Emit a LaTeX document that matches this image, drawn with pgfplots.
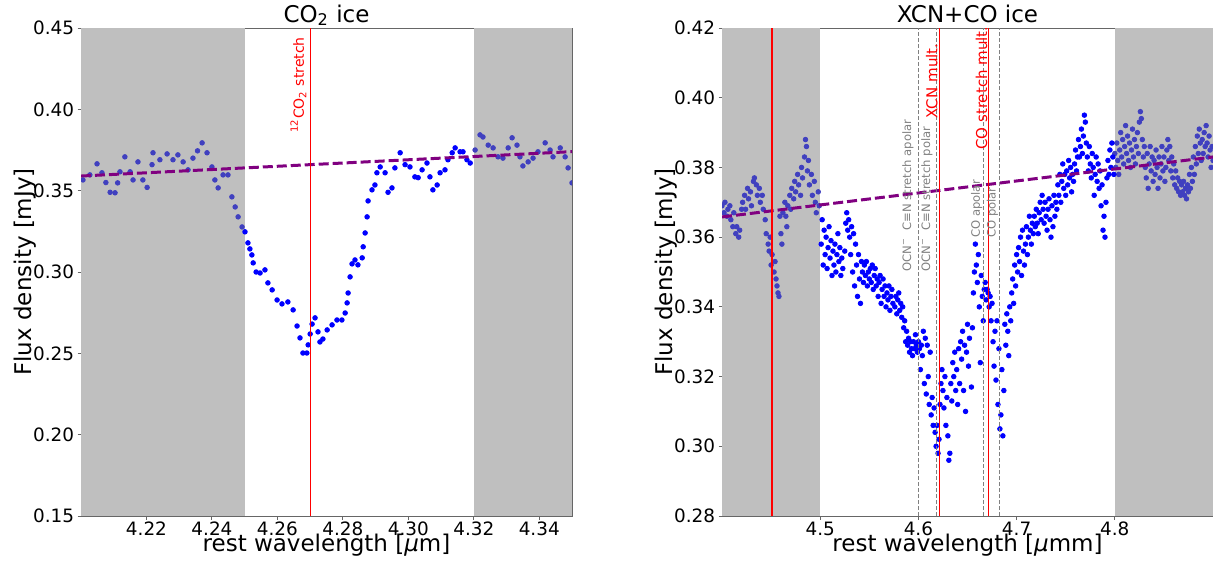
\documentclass[border=0pt]{standalone}
\usepackage{fontspec}
\setmainfont{DejaVu Sans}
\usepackage{pgfplots}
\usepackage{pgfplotstable}
\pgfplotsset{compat=1.18}
\definecolor{mplpurple}{RGB}{128,0,128}
\definecolor{mplgray}{RGB}{128,128,128}
\definecolor{spangray}{RGB}{191,191,191}
\definecolor{mplblue}{RGB}{0,0,255}
\definecolor{dimblue}{RGB}{64,64,191}
\definecolor{mplred}{RGB}{255,0,0}

\pgfplotsset{
  myaxis/.style={
    scale only axis, width=245.5pt, height=244pt,
    axis line style={black!60, line width=0.5pt},
    tick align=outside, tick pos=left, major tick length=1.75pt,
    tick style={black!60, line width=0.5pt},
    ticklabel style={font=\fontsize{9.2}{10}\selectfont},
    xticklabel style={inner sep=1.2pt},
    yticklabel style={inner sep=1.5pt},
    /pgf/number format/assume math mode=true,
    every axis title/.style={at={(axis description cs:0.5,1.0123)}, anchor=base, font=\fontsize{11.5}{13}\selectfont},
    every axis x label/.style={at={(axis description cs:0.5,-0.0725)}, anchor=base, font=\fontsize{11.5}{13}\selectfont},
    every axis y label/.style={at={(axis description cs:-0.1018,0.5)}, rotate=90, anchor=base, font=\fontsize{11.5}{13}\selectfont},
    ylabel={Flux density [mJy]},
    clip=true, clip marker paths=true,
  },
  pts/.style={only marks, mark=*, mark size=1.15pt, color=mplblue},
  dimpts/.style={only marks, mark=*, mark size=1.15pt, color=dimblue},
  span/.style={draw=none, fill=spangray},
  fitline/.style={mplpurple, line width=1.5pt, dash pattern=on 5pt off 2pt},
  redline/.style={draw=red, line width=0.6pt, mark=none},
  grayline/.style={mplgray, line width=0.45pt, dash pattern=on 2pt off 1pt},
}

\pgfplotstableread{
x y
4.2006 0.3566
4.2027 0.3597
4.2049 0.3665
4.2064 0.3610
4.2076 0.3550
4.2089 0.3490
4.2104 0.3487
4.2112 0.3548
4.2119 0.3616
4.2134 0.3708
4.2150 0.3616
4.2159 0.3566
4.2174 0.3677
4.2189 0.3566
4.2202 0.3520
4.2217 0.3660
4.2220 0.3733
4.2241 0.3690
4.2263 0.3726
4.2281 0.3690
4.2296 0.3720
4.2312 0.3677
4.2327 0.3628
4.2342 0.3700
4.2356 0.3745
4.2370 0.3794
4.2385 0.3733
4.2400 0.3646
4.2409 0.3566
4.2419 0.3517
4.2434 0.3597
4.2449 0.3597
4.2461 0.3462
4.2471 0.3400
4.2480 0.3339
4.2492 0.3277
4.2501 0.3247
4.2510 0.3179
4.2516 0.3142
4.2522 0.3105
4.2526 0.3056
4.2535 0.3000
4.2547 0.2994
4.2562 0.3013
4.2571 0.2933
4.2584 0.2890
4.2599 0.2828
4.2614 0.2804
4.2632 0.2816
4.2648 0.2767
4.2660 0.2668
4.2669 0.2595
4.2678 0.2502
4.2690 0.2502
4.2694 0.2552
4.2700 0.2619
4.2706 0.2680
4.2715 0.2718
4.2724 0.2632
4.2730 0.2570
4.2739 0.2588
4.2752 0.2644
4.2767 0.2675
4.2782 0.2705
4.2797 0.2705
4.2807 0.2748
4.2813 0.2810
4.2816 0.2871
4.2822 0.2970
4.2828 0.3050
4.2837 0.3074
4.2846 0.3044
4.2859 0.3087
4.2862 0.3155
4.2868 0.3240
4.2874 0.3339
4.2877 0.3437
4.2889 0.3505
4.2898 0.3535
4.2904 0.3610
4.2914 0.3646
4.2929 0.3610
4.2938 0.3490
4.2950 0.3517
4.2959 0.3640
4.2975 0.3733
4.2990 0.3660
4.3005 0.3646
4.3020 0.3585
4.3030 0.3580
4.3042 0.3628
4.3057 0.3670
4.3066 0.3585
4.3075 0.3505
4.3088 0.3535
4.3097 0.3610
4.3112 0.3628
4.3121 0.3690
4.3134 0.3733
4.3143 0.3763
4.3158 0.3739
4.3167 0.3739
4.3179 0.3690
4.3189 0.3670
4.3204 0.3750
4.3219 0.3843
4.3228 0.3830
4.3244 0.3780
4.3259 0.3763
4.3274 0.3708
4.3289 0.3700
4.3305 0.3763
4.3317 0.3825
4.3332 0.3780
4.3341 0.3708
4.3350 0.3652
4.3366 0.3677
4.3381 0.3700
4.3396 0.3739
4.3418 0.3794
4.3433 0.3750
4.3442 0.3708
4.3464 0.3763
4.3479 0.3708
4.3488 0.3640
4.3500 0.3548
}\leftdata

\pgfplotstableread{
x y
4.400 0.369
4.402 0.367
4.403 0.370
4.405 0.366
4.406 0.368
4.408 0.369
4.409 0.365
4.411 0.363
4.412 0.367
4.414 0.361
4.415 0.363
4.417 0.360
4.418 0.362
4.420 0.368
4.421 0.370
4.423 0.372
4.424 0.368
4.426 0.374
4.427 0.371
4.429 0.373
4.430 0.369
4.432 0.376
4.433 0.377
4.435 0.375
4.436 0.372
4.438 0.374
4.439 0.370
4.441 0.372
4.442 0.368
4.444 0.365
4.445 0.361
4.447 0.358
4.448 0.356
4.449 0.360
4.450 0.352
4.451 0.355
4.453 0.350
4.454 0.353
4.455 0.348
4.456 0.346
4.457 0.344
4.458 0.343
4.459 0.366
4.460 0.361
4.461 0.358
4.462 0.367
4.464 0.370
4.465 0.366
4.466 0.363
4.467 0.369
4.469 0.372
4.470 0.368
4.471 0.374
4.473 0.371
4.474 0.376
4.475 0.373
4.477 0.378
4.478 0.375
4.480 0.372
4.481 0.380
4.482 0.377
4.484 0.383
4.485 0.388
4.486 0.386
4.487 0.379
4.488 0.382
4.489 0.375
4.491 0.378
4.492 0.372
4.494 0.376
4.495 0.370
4.496 0.367
4.498 0.373
4.499 0.369
4.501 0.358
4.502 0.365
4.503 0.352
4.504 0.362
4.505 0.355
4.506 0.360
4.507 0.351
4.508 0.357
4.509 0.363
4.510 0.354
4.511 0.359
4.512 0.349
4.513 0.356
4.514 0.352
4.515 0.358
4.516 0.350
4.517 0.355
4.518 0.361
4.519 0.353
4.520 0.357
4.521 0.349
4.522 0.354
4.523 0.351
4.525 0.356
4.526 0.364
4.527 0.367
4.528 0.362
4.529 0.365
4.530 0.360
4.531 0.355
4.532 0.363
4.533 0.350
4.534 0.361
4.535 0.346
4.536 0.358
4.537 0.352
4.538 0.343
4.539 0.355
4.540 0.348
4.541 0.341
4.542 0.353
4.543 0.350
4.544 0.347
4.545 0.352
4.546 0.349
4.547 0.353
4.548 0.346
4.549 0.350
4.550 0.348
4.551 0.351
4.552 0.347
4.553 0.352
4.554 0.345
4.555 0.349
4.556 0.351
4.557 0.346
4.558 0.348
4.559 0.343
4.560 0.347
4.561 0.349
4.562 0.341
4.563 0.345
4.564 0.348
4.565 0.343
4.566 0.346
4.567 0.340
4.568 0.344
4.569 0.342
4.570 0.346
4.571 0.339
4.572 0.343
4.573 0.345
4.574 0.341
4.576 0.340
4.577 0.343
4.578 0.338
4.579 0.342
4.580 0.344
4.581 0.339
4.582 0.341
4.583 0.337
4.584 0.340
4.585 0.334
4.586 0.336
4.587 0.330
4.588 0.333
4.589 0.329
4.590 0.331
4.591 0.327
4.592 0.330
4.593 0.328
4.594 0.326
4.595 0.330
4.596 0.328
4.597 0.332
4.598 0.329
4.599 0.327
4.600 0.330
4.601 0.328
4.602 0.322
4.603 0.329
4.604 0.326
4.605 0.333
4.606 0.318
4.607 0.331
4.608 0.315
4.609 0.329
4.610 0.320
4.611 0.312
4.612 0.327
4.613 0.309
4.614 0.314
4.615 0.306
4.616 0.311
4.617 0.304
4.618 0.300
4.619 0.306
4.620 0.298
4.621 0.302
4.622 0.312
4.623 0.318
4.624 0.322
4.625 0.316
4.626 0.311
4.627 0.320
4.628 0.306
4.629 0.314
4.630 0.303
4.631 0.296
4.632 0.298
4.633 0.318
4.634 0.313
4.635 0.324
4.636 0.320
4.637 0.327
4.638 0.316
4.639 0.322
4.640 0.312
4.641 0.328
4.642 0.318
4.643 0.330
4.644 0.325
4.645 0.333
4.646 0.316
4.647 0.329
4.648 0.310
4.649 0.327
4.650 0.335
4.651 0.323
4.652 0.331
4.654 0.317
4.655 0.334
4.656 0.344
4.657 0.350
4.658 0.358
4.659 0.352
4.660 0.347
4.661 0.355
4.662 0.340
4.663 0.324
4.664 0.349
4.665 0.343
4.666 0.336
4.667 0.345
4.668 0.347
4.669 0.342
4.670 0.345
4.671 0.344
4.672 0.340
4.673 0.343
4.674 0.336
4.675 0.341
4.676 0.330
4.677 0.323
4.678 0.333
4.679 0.319
4.680 0.336
4.681 0.312
4.682 0.328
4.683 0.305
4.684 0.309
4.685 0.322
4.686 0.303
4.687 0.316
4.688 0.335
4.689 0.329
4.690 0.338
4.691 0.333
4.692 0.326
4.693 0.340
4.694 0.336
4.695 0.344
4.696 0.348
4.697 0.341
4.698 0.352
4.699 0.346
4.700 0.355
4.701 0.350
4.702 0.357
4.703 0.353
4.704 0.360
4.705 0.349
4.706 0.362
4.707 0.356
4.708 0.352
4.709 0.358
4.710 0.363
4.711 0.355
4.712 0.360
4.713 0.366
4.714 0.362
4.715 0.358
4.716 0.364
4.717 0.361
4.718 0.366
4.719 0.363
4.720 0.368
4.721 0.364
4.722 0.361
4.723 0.367
4.724 0.370
4.725 0.365
4.726 0.372
4.727 0.368
4.728 0.364
4.729 0.370
4.730 0.366
4.731 0.362
4.732 0.368
4.733 0.371
4.734 0.365
4.735 0.360
4.736 0.369
4.737 0.363
4.738 0.372
4.739 0.366
4.740 0.370
4.741 0.368
4.742 0.375
4.743 0.372
4.744 0.378
4.745 0.370
4.746 0.376
4.747 0.381
4.748 0.374
4.749 0.378
4.750 0.372
4.751 0.379
4.752 0.375
4.753 0.382
4.754 0.377
4.755 0.380
4.756 0.373
4.757 0.378
4.758 0.376
4.759 0.381
4.760 0.385
4.761 0.379
4.762 0.383
4.763 0.388
4.764 0.383
4.765 0.386
4.766 0.391
4.767 0.384
4.768 0.389
4.769 0.395
4.770 0.393
4.771 0.387
4.772 0.383
4.773 0.379
4.774 0.386
4.775 0.381
4.776 0.377
4.777 0.384
4.778 0.380
4.779 0.372
4.780 0.378
4.781 0.383
4.782 0.376
4.783 0.381
4.784 0.374
4.785 0.379
4.786 0.369
4.787 0.375
4.788 0.362
4.789 0.366
4.790 0.360
4.791 0.370
4.792 0.377
4.793 0.382
4.794 0.378
4.795 0.385
4.796 0.380
4.797 0.387
4.798 0.383
4.799 0.378
4.800 0.384
4.801 0.380
4.802 0.387
4.803 0.382
4.804 0.378
4.805 0.385
4.806 0.390
4.807 0.383
4.808 0.388
4.809 0.381
4.810 0.386
4.811 0.392
4.812 0.384
4.813 0.389
4.814 0.382
4.815 0.387
4.816 0.380
4.817 0.385
4.818 0.391
4.819 0.383
4.820 0.388
4.821 0.381
4.822 0.386
4.823 0.390
4.824 0.384
4.825 0.393
4.826 0.396
4.827 0.394
4.828 0.388
4.829 0.383
4.830 0.386
4.831 0.380
4.832 0.377
4.833 0.384
4.834 0.374
4.835 0.381
4.836 0.386
4.837 0.379
4.838 0.383
4.839 0.376
4.840 0.382
4.841 0.378
4.842 0.385
4.843 0.380
4.844 0.374
4.845 0.383
4.846 0.377
4.847 0.381
4.848 0.386
4.849 0.379
4.850 0.383
4.851 0.376
4.852 0.380
4.853 0.385
4.854 0.388
4.855 0.382
4.856 0.386
4.857 0.379
4.858 0.383
4.859 0.377
4.860 0.381
4.861 0.375
4.862 0.379
4.863 0.374
4.864 0.377
4.865 0.373
4.866 0.376
4.867 0.372
4.868 0.375
4.869 0.373
4.870 0.376
4.871 0.372
4.872 0.374
4.873 0.371
4.874 0.375
4.875 0.373
4.876 0.378
4.877 0.374
4.878 0.380
4.879 0.376
4.880 0.383
4.881 0.378
4.882 0.386
4.883 0.381
4.884 0.389
4.885 0.384
4.886 0.391
4.887 0.387
4.888 0.382
4.889 0.388
4.890 0.384
4.891 0.390
4.892 0.386
4.893 0.392
4.894 0.387
4.895 0.383
4.896 0.389
4.897 0.385
4.898 0.380
4.899 0.386
4.900 0.382
}\rightdata

\begin{document}
\begin{tikzpicture}
\useasboundingbox (0,0) rectangle (606.5pt,284.5pt);

% ---------------- left panel ----------------
\begin{axis}[myaxis, at={(40.5pt,26.5pt)}, anchor=south west,
  xmin=4.20, xmax=4.35, ymin=0.15, ymax=0.45,
  xtick={4.22,4.24,4.26,4.28,4.30,4.32,4.34},
  ytick={0.15,0.20,0.25,0.30,0.35,0.40,0.45},
  xticklabel style={/pgf/number format/.cd, fixed, fixed zerofill, precision=2},
  yticklabel style={/pgf/number format/.cd, fixed, fixed zerofill, precision=2},
  title={CO\textsubscript{2} ice},
  xlabel={rest wavelength [\textit{μ}m]},
]
\addplot[span] coordinates {(4.20,0.15) (4.20,0.45) (4.25,0.45) (4.25,0.15)} -- cycle;
\addplot[span] coordinates {(4.32,0.15) (4.32,0.45) (4.35,0.45) (4.35,0.15)} -- cycle;
\addplot[dimpts, restrict x to domain=4.19:4.25] table {\leftdata};
\addplot[dimpts, restrict x to domain=4.32:4.36] table {\leftdata};
\addplot[pts, restrict x to domain=4.25001:4.31999] table {\leftdata};
\addplot[fitline] coordinates {(4.20,0.359) (4.35,0.374)};
\addplot[redline] coordinates {(4.27,0.15) (4.27,0.45)};
\node[rotate=90, anchor=south west, inner sep=0pt, text=mplred, font=\fontsize{7}{8}\selectfont]
  at (axis cs:4.2690,0.3855) {\textsuperscript{12}CO\textsubscript{2} stretch};
\end{axis}

% ---------------- right panel ----------------
\begin{axis}[myaxis, at={(361pt,26.5pt)}, anchor=south west,
  xmin=4.40, xmax=4.90, ymin=0.28, ymax=0.42,
  xtick={4.5,4.6,4.7,4.8},
  ytick={0.28,0.30,0.32,0.34,0.36,0.38,0.40,0.42},
  xticklabel style={/pgf/number format/.cd, fixed, fixed zerofill, precision=1},
  yticklabel style={/pgf/number format/.cd, fixed, fixed zerofill, precision=2},
  title={XCN+CO ice},
  xlabel={rest wavelength [\textit{μ}mm]},
]
\addplot[span] coordinates {(4.40,0.28) (4.40,0.42) (4.50,0.42) (4.50,0.28)} -- cycle;
\addplot[span] coordinates {(4.80,0.28) (4.80,0.42) (4.90,0.42) (4.90,0.28)} -- cycle;
\addplot[dimpts, restrict x to domain=4.39:4.50] table {\rightdata};
\addplot[dimpts, restrict x to domain=4.80:4.91] table {\rightdata};
\addplot[pts, restrict x to domain=4.50001:4.79999] table {\rightdata};
\addplot[fitline] coordinates {(4.40,0.3658) (4.90,0.383)};
\addplot[grayline] coordinates {(4.600,0.28) (4.600,0.42)};
\addplot[grayline] coordinates {(4.6185,0.28) (4.6185,0.42)};
\addplot[redline] coordinates {(4.6215,0.28) (4.6215,0.42)};
\addplot[grayline] coordinates {(4.666,0.28) (4.666,0.42)};
\addplot[redline] coordinates {(4.6714,0.28) (4.6714,0.42)};
\addplot[grayline] coordinates {(4.6825,0.28) (4.6825,0.42)};
\addplot[draw=red, line width=0.8pt, mark=none] coordinates {(4.451,0.28) (4.451,0.42)};
\begin{scope}[every node/.style={rotate=90, anchor=south west, inner sep=0pt}]
\node[text=mplgray, font=\fontsize{5.8}{7}\selectfont] at (axis cs:4.5955,0.350) {OCN\textsuperscript{−}\ \ C≡N stretch apolar};
\node[text=mplgray, font=\fontsize{5.8}{7}\selectfont] at (axis cs:4.6149,0.350) {OCN\textsuperscript{−}\ \ C≡N stretch polar};
\node[text=mplred, font=\fontsize{7.5}{9}\selectfont] at (axis cs:4.6200,0.394) {XCN mult.};
\node[text=mplgray, font=\fontsize{5.8}{7}\selectfont] at (axis cs:4.6654,0.3597) {CO apolar};
\node[text=mplred, font=\fontsize{7.5}{9}\selectfont] at (axis cs:4.6705,0.385) {CO stretch mult.};
\node[text=mplgray, font=\fontsize{5.8}{7}\selectfont] at (axis cs:4.6815,0.3597) {CO polar};
\end{scope}
\end{axis}
\end{tikzpicture}
\end{document}
